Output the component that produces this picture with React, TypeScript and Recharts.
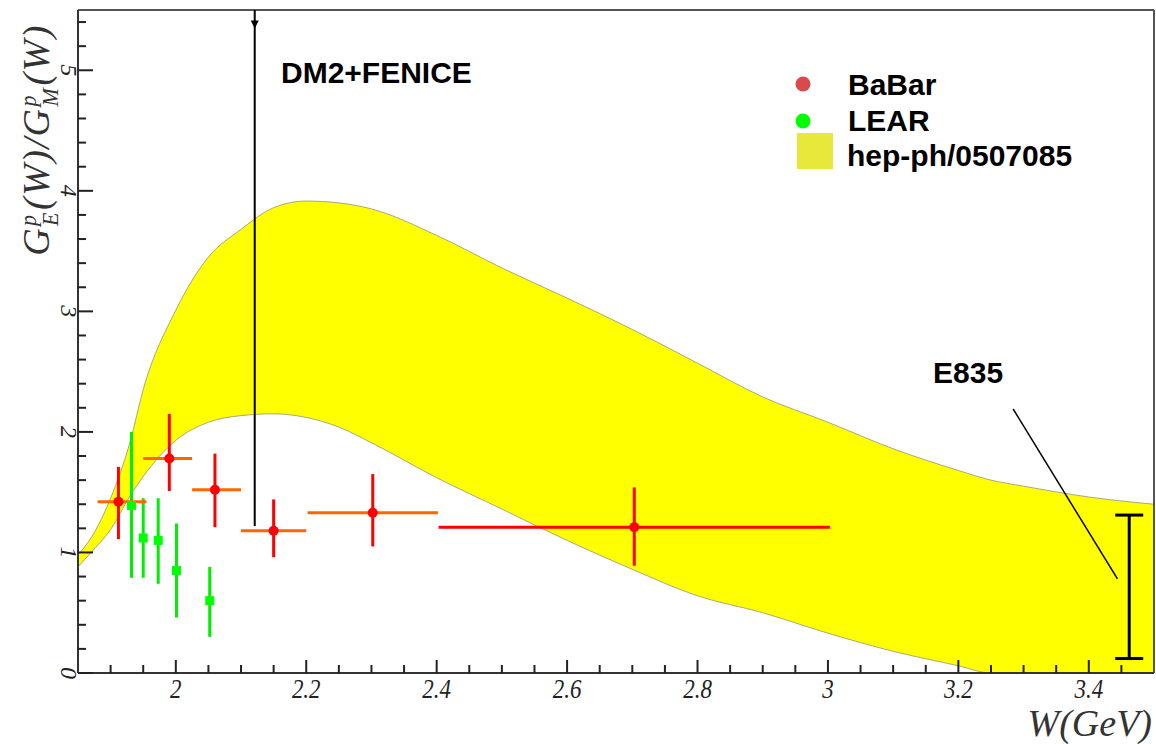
import React from 'react';
import { ComposedChart, Area, Scatter, ErrorBar, XAxis, YAxis, ReferenceLine } from 'recharts';

// theory band hep-ph/0507085
const bandW = [1.85, 1.87, 1.9, 1.93, 1.95, 2.0, 2.05, 2.1, 2.15, 2.2, 2.25, 2.3, 2.4, 2.5, 2.6, 2.7, 2.8, 2.9, 3.0, 3.1, 3.2, 3.25, 3.3, 3.4, 3.5];
const bandUpper = [0.98, 1.12, 1.45, 1.92, 2.35, 3.01, 3.45, 3.68, 3.86, 3.915, 3.9, 3.85, 3.63, 3.36, 3.11, 2.85, 2.57, 2.29, 2.08, 1.86, 1.68, 1.6, 1.55, 1.46, 1.4];
const bandLower = [0.88, 1.0, 1.19, 1.47, 1.63, 1.93, 2.08, 2.135, 2.15, 2.12, 2.04, 1.91, 1.62, 1.36, 1.1, 0.86, 0.64, 0.5, 0.33, 0.18, 0.06, 0, 0, 0, 0];

// BaBar: W, ratio, [minus, plus] errors
const babarW = [1.912, 1.99, 2.06, 2.15, 2.302, 2.703];
const babarG = [1.42, 1.78, 1.52, 1.18, 1.33, 1.21];
const babarEx = [[0.032, 0.043], [0.04, 0.035], [0.035, 0.04], [0.05, 0.05], [0.1, 0.1], [0.3, 0.3]];
const babarEy = [[0.31, 0.29], [0.27, 0.37], [0.31, 0.3], [0.22, 0.26], [0.28, 0.32], [0.32, 0.33]];

// LEAR
const learW = [1.932, 1.95, 1.973, 2.001, 2.052];
const learG = [1.39, 1.12, 1.1, 0.85, 0.6];
const learEy = [[0.6, 0.61], [0.33, 0.33], [0.36, 0.35], [0.39, 0.39], [0.3, 0.28]];

// E835 and DM2+FENICE
const e835 = [{ w: 3.462, g: 0.715, ey: 0.595 }];
const dm2 = { w: 2.121, low: 1.22, arrow: 5.38 };
const e835Pointer = [{ x: 3.284, y: 2.19 }, { x: 3.444, y: 0.78 }];

const xMajor = [2, 2.2, 2.4, 2.6, 2.8, 3, 3.2, 3.4];
const yMajor = [0, 1, 2, 3, 4, 5];

const xTicks: number[] = [];
for (let i = 1; i < 33; i++) xTicks.push(Math.round((1.85 + i * 0.05) * 100) / 100);
const yTicks: number[] = [];
for (let i = 0; i < 28; i++) yTicks.push(Math.round(i * 0.2 * 10) / 10);

const bandData = bandW.map((w, i) => ({ w, band: [bandLower[i], bandUpper[i]] }));
const babar = babarW.map((w, i) => ({ w, g: babarG[i], ex: babarEx[i], ey: babarEy[i] }));
const lear = learW.map((w, i) => ({ w, g: learG[i], ey: learEy[i] }));

const serif = '"Liberation Serif", "DejaVu Serif", serif';
const sans = '"Liberation Sans", Arial, sans-serif';

const XTick = (props: any) => {
  const { x, y, payload } = props;
  const v = payload.value;
  const major = xMajor.some((m) => Math.abs(m - v) < 1e-6);
  return (
    <g>
      <line x1={x} x2={x} y1={y} y2={y - (major ? 13 : 8)} stroke="#222" strokeWidth={2} />
      {major && (
        <text
          transform={`translate(${x},${y + 25}) scale(0.82,1)`}
          textAnchor="middle"
          fontFamily={serif}
          fontStyle="italic"
          fontSize={28}
          fill="#222"
        >
          {String(v)}
        </text>
      )}
    </g>
  );
};

const YTick = (props: any) => {
  const { x, y, payload } = props;
  const v = payload.value;
  const major = yMajor.some((m) => Math.abs(m - v) < 1e-6);
  return (
    <g>
      <line x1={x} x2={x + (major ? 15 : 8)} y1={y} y2={y} stroke="#222" strokeWidth={2} />
      {major && (
        <text
          transform={`translate(${x - 17},${y}) rotate(90)`}
          textAnchor="middle"
          fontFamily={serif}
          fontStyle="italic"
          fontSize={24}
          fill="#222"
        >
          {String(v)}
        </text>
      )}
    </g>
  );
};

const Dot = (p: any) => <circle cx={p.cx} cy={p.cy} r={5} fill="#ff0000" />;
const Square = (p: any) => <rect x={p.cx - 4.5} y={p.cy - 4.5} width={9} height={9} fill="#00ff00" />;
const Nothing = () => <g />;
const Arrow = (p: any) => (
  <path d={`M${p.cx - 4},${p.cy - 4} L${p.cx + 4},${p.cy - 4} L${p.cx},${p.cy + 4} Z`} fill="#000" />
);

const Stack = ({ top, bottom }: { top: string; bottom: string }) => (
  <span
    style={{
      display: 'inline-flex',
      flexDirection: 'column',
      fontSize: '0.58em',
      lineHeight: 1,
      verticalAlign: 'middle',
      margin: '0 1px',
    }}
  >
    <span>{top}</span>
    <span>{bottom}</span>
  </span>
);

export default function App() {
  return (
    <div
      style={{
        position: 'fixed',
        left: 0,
        top: 0,
        width: 1156,
        height: 744,
        background: '#fff',
        overflow: 'hidden',
      }}
    >
      <ComposedChart width={1156} height={744} data={bandData} margin={{ top: 10, right: 2, left: 0, bottom: 0 }}>
        <XAxis
          dataKey="w"
          type="number"
          domain={[1.85, 3.5]}
          allowDataOverflow
          ticks={xTicks}
          interval={0}
          tick={<XTick />}
          tickLine={false}
          tickSize={0}
          tickMargin={0}
          height={71}
          axisLine={{ stroke: '#333', strokeWidth: 2 }}
        />
        <YAxis
          type="number"
          domain={[0, 5.5]}
          allowDataOverflow
          ticks={yTicks}
          interval={0}
          tick={<YTick />}
          tickLine={false}
          tickSize={0}
          tickMargin={0}
          width={78}
          axisLine={{ stroke: '#333', strokeWidth: 2 }}
        />
        <Area
          type="monotone"
          dataKey="band"
          fill="#ffff00"
          fillOpacity={1}
          stroke="#a9a97a"
          strokeWidth={1}
          isAnimationActive={false}
          dot={false}
          activeDot={false}
        />
        <ReferenceLine y={5.5} stroke="#555" strokeWidth={2} />
        <ReferenceLine x={3.5} stroke="#555" strokeWidth={2} />
        <ReferenceLine
          segment={[{ x: dm2.w, y: dm2.low }, { x: dm2.w, y: 5.5 }]}
          stroke="#000"
          strokeWidth={2}
        />
        <ReferenceLine segment={e835Pointer} stroke="#000" strokeWidth={1.5} />
        <Scatter data={[{ w: dm2.w, g: dm2.arrow }]} dataKey="g" shape={Arrow} isAnimationActive={false} />
        <Scatter data={e835} dataKey="g" shape={Nothing} isAnimationActive={false}>
          <ErrorBar dataKey="ey" direction="y" width={14} stroke="#000" strokeWidth={3} />
        </Scatter>
        <Scatter data={lear} dataKey="g" shape={Square} isAnimationActive={false}>
          <ErrorBar dataKey="ey" direction="y" width={0} stroke="#00ee00" strokeWidth={3} />
        </Scatter>
        <Scatter data={babar.slice(0, 5)} dataKey="g" shape={Dot} isAnimationActive={false}>
          <ErrorBar dataKey="ey" direction="y" width={0} stroke="#ff0000" strokeWidth={3} />
          <ErrorBar dataKey="ex" direction="x" width={0} stroke="#ff6600" strokeWidth={3} />
        </Scatter>
        <Scatter data={babar.slice(5)} dataKey="g" shape={Dot} isAnimationActive={false}>
          <ErrorBar dataKey="ey" direction="y" width={0} stroke="#ff0000" strokeWidth={3} />
          <ErrorBar dataKey="ex" direction="x" width={0} stroke="#ff0000" strokeWidth={3} />
        </Scatter>
      </ComposedChart>

      <svg width={1156} height={744} style={{ position: 'absolute', left: 0, top: 0, pointerEvents: 'none' }}>
        <g fontFamily={sans} fontWeight="bold" fontSize={30} fill="#000">
          <text x={281} y={83}>DM2+FENICE</text>
          <text x={933} y={383}>E835</text>
          <text x={848} y={95}>BaBar</text>
          <text x={848} y={131}>LEAR</text>
          <text x={847} y={166}>hep-ph/0507085</text>
        </g>
        <circle cx={803} cy={84} r={7.5} fill="#d94a4a" />
        <circle cx={803} cy={121} r={7.5} fill="#00ff00" />
        <rect x={797} y={133} width={36} height={36} fill="#e8e83a" />
      </svg>

      <div
        style={{
          position: 'absolute',
          left: 40,
          top: 140,
          transform: 'translate(-50%, -50%) rotate(-90deg)',
          whiteSpace: 'nowrap',
          fontFamily: serif,
          fontStyle: 'italic',
          fontSize: 38,
          letterSpacing: 1.5,
          color: '#333',
          lineHeight: 1,
        }}
      >
        G<Stack top="p" bottom="E" />(W)/G<Stack top="p" bottom="M" />(W)
      </div>
      <div
        style={{
          position: 'absolute',
          right: 4,
          top: 706,
          fontFamily: serif,
          fontStyle: 'italic',
          fontSize: 38,
          lineHeight: '34px',
          color: '#333',
          whiteSpace: 'nowrap',
        }}
      >
        W(GeV)
      </div>
    </div>
  );
}
